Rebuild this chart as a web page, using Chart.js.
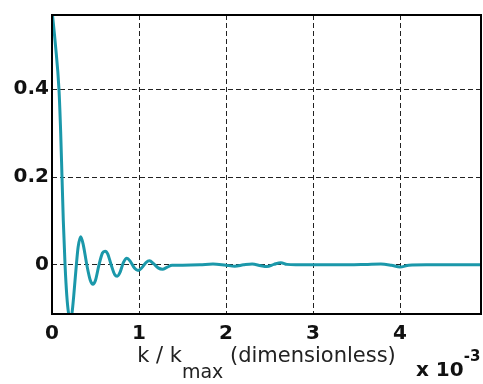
<!DOCTYPE html>
<html>
<head>
<meta charset="utf-8">
<script src="https://cdn.jsdelivr.net/npm/chart.js@4.4.1/dist/chart.umd.min.js"></script>
<style>
  html, body { margin: 0; padding: 0; background: #fff; }
  #wrap { width: 483px; height: 384px; }
</style>
</head>
<body>
<div id="wrap"><canvas id="myChart" width="483" height="384"></canvas></div>
<script>
// Data (k / kmax in units of 1e-3)
const kValues = [0, 0.04, 0.08, 0.10, 0.115, 0.13, 0.15, 0.17, 0.19, 0.21, 0.23, 0.25, 0.28, 0.30, 0.33, 0.36,
  0.40, 0.44, 0.47, 0.50, 0.54, 0.58, 0.61, 0.64, 0.68, 0.72, 0.75, 0.78, 0.82, 0.86, 0.90,
  0.95, 0.99, 1.04, 1.08, 1.12, 1.17, 1.22, 1.27, 1.32, 1.38, 1.5, 1.7, 1.85, 2.0, 2.1,
  2.2, 2.3, 2.4, 2.47, 2.55, 2.63, 2.7, 2.8, 3.0, 3.3, 3.6, 3.78, 3.9, 4.0, 4.1, 4.3, 4.93];
const responseValues = [0.58, 0.50, 0.40, 0.30, 0.20, 0.10, 0.0, -0.07, -0.11, -0.125, -0.11, -0.07, 0.0, 0.04, 0.064, 0.045,
  0.0, -0.035, -0.044, -0.035, 0.0, 0.027, 0.031, 0.025, 0.0, -0.022, -0.026, -0.018, 0.005, 0.015, 0.008,
  -0.008, -0.013, -0.005, 0.005, 0.009, 0.002, -0.007, -0.010, -0.006, -0.001, -0.001, 0.0, 0.002, -0.001, -0.003,
  0.0, 0.002, -0.002, -0.004, 0.001, 0.005, 0.001, 0.0, 0.0, 0.0, 0.001, 0.002, -0.001, -0.005, -0.001, 0.0, 0.0];
const xTickValues = [0, 1, 2, 3, 4];
const yTickValues = [0, 0.2, 0.4];

const points = kValues.map((k, i) => ({ x: k, y: responseValues[i] }));

// box + axis title + multiplier
const framePlugin = {
  id: 'frame',
  afterDraw(chart) {
    const ctx = chart.ctx;
    const a = chart.chartArea;
    ctx.save();
    ctx.strokeStyle = '#000';
    ctx.lineWidth = 2;
    ctx.strokeRect(a.left, a.top, a.right - a.left, a.bottom - a.top);

    // x title with subscript
    ctx.fillStyle = '#222';
    ctx.textBaseline = 'alphabetic';
    ctx.textAlign = 'left';
    ctx.font = '21px "DejaVu Sans"';
    const p1 = 'k / k', p2 = 'max', p3 = ' (dimensionless)';
    const w1 = ctx.measureText(p1).width;
    ctx.font = '19px "DejaVu Sans"';
    const w2 = ctx.measureText(p2).width;
    ctx.font = '21px "DejaVu Sans"';
    const w3 = ctx.measureText(p3).width;
    let x = (a.left + a.right) / 2 - (w1 + w2 + w3) / 2;
    ctx.fillText(p1, x, 362);
    ctx.fillText(p3, x + w1 + w2, 362);
    ctx.font = '19px "DejaVu Sans"';
    ctx.fillText(p2, x + w1, 378);

    // multiplier
    ctx.fillStyle = '#111';
    ctx.font = 'bold 20px "DejaVu Sans"';
    ctx.fillText('x 10', 416, 376);
    const wm = ctx.measureText('x 10').width;
    ctx.font = 'bold 15px "DejaVu Sans"';
    ctx.fillText('-3', 416 + wm, 361);
    ctx.restore();
  }
};

const config = {
  type: 'scatter',
  data: {
    datasets: [{
      data: points,
      showLine: true,
      borderColor: '#1b98aa',
      borderWidth: 3,
      pointRadius: 0,
      tension: 0.4,
      cubicInterpolationMode: 'monotone'
    }]
  },
  options: {
    responsive: false,
    animation: false,
    layout: { padding: { top: 4, right: 2, left: 0, bottom: 0 } },
    plugins: { legend: { display: false }, tooltip: { enabled: false } },
    scales: {
      x: {
        type: 'linear',
        min: 0,
        max: 4.93,
        afterBuildTicks: (s) => { s.ticks = xTickValues.map(v => ({ value: v })); },
        afterFit: (s) => { s.height = 70; },
        grid: { color: '#222', lineWidth: 1, drawTicks: false },
        border: { display: false, dash: [5, 3] },
        ticks: {
          padding: 8,
          color: '#111',
          font: { family: 'DejaVu Sans', weight: 'bold', size: 20 },
          callback: (v) => String(v)
        }
      },
      y: {
        type: 'linear',
        min: -0.112,
        max: 0.569,
        afterBuildTicks: (s) => { s.ticks = yTickValues.map(v => ({ value: v })); },
        afterFit: (s) => { s.width = 52; },
        grid: { color: '#222', lineWidth: 1, drawTicks: false },
        border: { display: false, dash: [5, 3] },
        ticks: {
          padding: 3,
          color: '#111',
          font: { family: 'DejaVu Sans', weight: 'bold', size: 20 },
          callback: (v) => String(v)
        }
      }
    }
  },
  plugins: [framePlugin]
};

const myChart = new Chart(document.getElementById('myChart'), config);
</script>
</body>
</html>
